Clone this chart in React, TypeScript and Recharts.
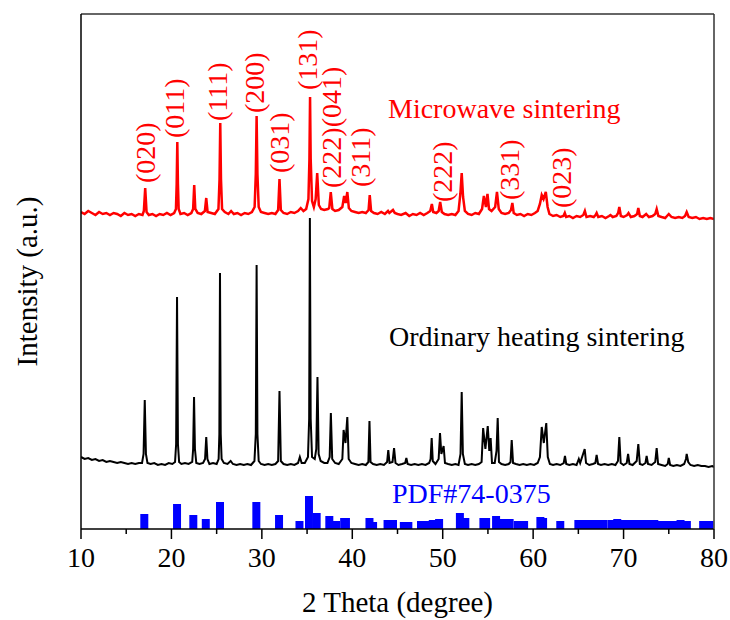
import React from "react";
import { ComposedChart, Line, XAxis, YAxis, Scatter, ReferenceLine } from "recharts";

const FONT = '"Liberation Serif", "Times New Roman", serif';

// the chart fills the whole 730x620 window, so drop the default body margin
if (typeof document !== "undefined") {
  document.body.style.margin = "0";
  document.body.style.overflow = "hidden";
}

// 2θ (deg), intensity (arbitrary, offset stack)
const microwave: [number, number][] = [
  [10.0, 317], [10.4, 315], [10.8, 318], [11.2, 316], [11.6, 314], [12.0, 317], [12.4, 315], [12.8, 316],
  [13.2, 314], [13.6, 316], [14.0, 315], [14.4, 313], [14.8, 316], [15.2, 314], [15.6, 315], [16.0, 313],
  [16.4, 315], [16.8, 314], [16.95, 318], [17.1, 341], [17.25, 317], [17.5, 314], [17.9, 315], [18.3, 313],
  [18.7, 315], [19.1, 314], [19.5, 316], [19.9, 314], [20.3, 316], [20.5, 320], [20.58, 345], [20.65, 387],
  [20.72, 345], [20.8, 320], [21.0, 315], [21.4, 316], [21.8, 314], [22.2, 316], [22.4, 320], [22.52, 344],
  [22.64, 320], [22.9, 316], [23.3, 315], [23.7, 318], [23.85, 331], [24.0, 317], [24.4, 316], [24.8, 315],
  [25.2, 320], [25.32, 350], [25.4, 406], [25.48, 350], [25.6, 320], [25.9, 317], [26.3, 315], [26.6, 318],
  [26.9, 315], [27.3, 316], [27.7, 314], [28.1, 316], [28.5, 315], [28.9, 317], [29.2, 322], [29.33, 355],
  [29.42, 413], [29.51, 355], [29.65, 322], [29.9, 317], [30.3, 316], [30.7, 315], [31.1, 316], [31.5, 315],
  [31.8, 319], [31.95, 350], [32.1, 319], [32.4, 316], [32.8, 315], [33.2, 317], [33.6, 316], [34.0, 318],
  [34.3, 321], [34.6, 318], [34.9, 320], [35.15, 330], [35.26, 370], [35.33, 432], [35.4, 370], [35.55, 328],
  [35.75, 322], [35.95, 330], [36.12, 356], [36.3, 324], [36.55, 320], [36.9, 319], [37.3, 320], [37.45, 321],
  [37.62, 337], [37.8, 320], [38.1, 318], [38.5, 319], [38.9, 322], [39.1, 333], [39.27, 326], [39.45, 337],
  [39.62, 321], [39.9, 318], [40.3, 317], [40.7, 316], [41.1, 317], [41.5, 316], [41.8, 319], [41.93, 334],
  [42.08, 318], [42.4, 316], [42.8, 315], [43.2, 317], [43.6, 315], [43.95, 318], [44.1, 316], [44.5, 319],
  [44.7, 316], [45.0, 315], [45.4, 314], [45.9, 316], [46.3, 313], [46.7, 315], [47.1, 314], [47.5, 316],
  [47.9, 314], [48.3, 316], [48.62, 318], [48.8, 325], [48.95, 317], [49.3, 316], [49.55, 318], [49.72, 327],
  [49.9, 317], [50.2, 315], [50.6, 314], [51.0, 315], [51.4, 314], [51.75, 318], [51.95, 335], [52.1, 356],
  [52.25, 332], [52.45, 318], [52.8, 315], [53.2, 314], [53.6, 316], [54.0, 315], [54.35, 320], [54.55, 333],
  [54.78, 322], [54.95, 335], [55.12, 320], [55.4, 318], [55.8, 322], [56.0, 337], [56.2, 320], [56.5, 316],
  [56.9, 315], [57.3, 316], [57.55, 319], [57.7, 326], [57.85, 316], [58.2, 314], [58.6, 315], [59.0, 313],
  [59.4, 315], [59.8, 314], [60.2, 316], [60.5, 318], [60.75, 325], [60.95, 334], [61.15, 330], [61.4, 337],
  [61.6, 322], [61.8, 315], [62.2, 313], [62.6, 314], [63.0, 312], [63.35, 313], [63.5, 316], [63.65, 312],
  [64.0, 313], [64.4, 311], [64.8, 313], [65.2, 312], [65.55, 314], [65.72, 318], [65.9, 312], [66.3, 313],
  [66.7, 312], [66.9, 314], [67.02, 316], [67.2, 312], [67.6, 313], [68.0, 311], [68.4, 313], [68.55, 314],
  [68.8, 312], [69.2, 313], [69.4, 316], [69.53, 322], [69.7, 313], [70.0, 312], [70.4, 314], [70.55, 316],
  [70.8, 312], [71.2, 313], [71.5, 315], [71.63, 321], [71.8, 313], [72.1, 312], [72.5, 315], [72.8, 312],
  [73.2, 313], [73.5, 315], [73.66, 320], [73.85, 313], [74.2, 312], [74.6, 311], [75.0, 315], [75.3, 312],
  [75.7, 311], [76.1, 312], [76.5, 311], [76.8, 313], [76.98, 317], [77.2, 312], [77.6, 311], [78.0, 312],
  [78.4, 310], [78.8, 311], [79.2, 310], [79.6, 311], [80.0, 310],
];

const ordinary: [number, number][] = [
  [10.0, 72], [10.4, 70], [10.8, 71], [11.2, 69], [11.6, 70], [12.0, 68], [12.4, 69], [12.8, 67],
  [13.2, 68], [13.6, 67], [14.0, 66], [14.4, 67], [14.8, 66], [15.2, 65], [15.6, 66], [16.0, 65],
  [16.4, 66], [16.75, 66], [16.92, 75], [17.05, 129], [17.18, 75], [17.35, 66], [17.7, 65], [18.1, 66],
  [18.5, 64], [18.9, 65], [19.3, 64], [19.7, 66], [20.1, 65], [20.4, 67], [20.52, 85], [20.62, 232],
  [20.72, 85], [20.85, 67], [21.1, 65], [21.5, 66], [21.9, 65], [22.3, 67], [22.4, 80], [22.5, 132],
  [22.6, 80], [22.75, 66], [23.1, 65], [23.5, 66], [23.72, 70], [23.85, 92], [23.98, 70], [24.2, 65],
  [24.6, 66], [25.0, 65], [25.22, 70], [25.3, 95], [25.37, 256], [25.45, 95], [25.55, 70], [25.8, 66],
  [26.2, 65], [26.55, 68], [26.8, 65], [27.2, 64], [27.6, 65], [28.0, 64], [28.4, 65], [28.8, 64],
  [29.18, 68], [29.33, 95], [29.42, 264], [29.51, 95], [29.65, 68], [29.9, 65], [30.3, 64], [30.7, 65],
  [31.1, 64], [31.5, 65], [31.8, 68], [31.95, 138], [32.1, 68], [32.4, 65], [32.8, 64], [33.2, 65],
  [33.6, 64], [34.0, 66], [34.2, 72], [34.4, 66], [34.75, 66], [35.1, 72], [35.23, 110], [35.31, 311],
  [35.4, 110], [35.55, 72], [35.85, 70], [36.02, 80], [36.15, 152], [36.28, 75], [36.5, 68], [36.9, 66],
  [37.25, 66], [37.5, 72], [37.63, 116], [37.78, 70], [38.1, 66], [38.5, 65], [38.9, 70], [39.04, 99],
  [39.25, 86], [39.45, 112], [39.6, 70], [39.9, 66], [40.3, 65], [40.7, 64], [41.1, 65], [41.5, 64],
  [41.78, 67], [41.9, 108], [42.02, 67], [42.3, 65], [42.7, 64], [43.1, 65], [43.5, 64], [43.85, 67],
  [43.98, 79], [44.12, 66], [44.45, 67], [44.62, 81], [44.78, 66], [45.1, 64], [45.5, 65], [45.85, 66],
  [45.98, 71], [46.12, 65], [46.5, 64], [46.9, 65], [47.3, 64], [47.7, 65], [48.1, 64], [48.5, 66],
  [48.66, 70], [48.78, 91], [48.9, 68], [49.2, 65], [49.55, 70], [49.7, 96], [49.85, 75], [50.1, 83],
  [50.25, 66], [50.6, 65], [51.0, 64], [51.4, 65], [51.75, 64], [51.97, 75], [52.1, 137], [52.23, 75],
  [52.45, 65], [52.8, 64], [53.2, 65], [53.6, 64], [54.0, 65], [54.3, 67], [54.47, 101], [54.72, 80],
  [54.98, 103], [55.15, 78], [55.3, 91], [55.45, 66], [55.75, 66], [55.95, 78], [56.08, 111], [56.22, 67],
  [56.5, 65], [56.9, 64], [57.3, 65], [57.5, 67], [57.63, 89], [57.78, 66], [58.1, 65], [58.5, 64],
  [58.9, 65], [59.3, 64], [59.7, 65], [60.1, 64], [60.5, 66], [60.75, 72], [60.95, 102], [61.18, 86],
  [61.45, 106], [61.62, 72], [61.85, 65], [62.2, 64], [62.6, 65], [63.0, 64], [63.38, 66], [63.52, 73],
  [63.66, 65], [64.0, 64], [64.4, 65], [64.8, 64], [65.05, 70], [65.2, 66], [65.7, 80], [65.85, 66],
  [66.2, 64], [66.6, 65], [66.88, 66], [67.02, 74], [67.18, 65], [67.5, 64], [67.9, 65], [68.3, 64],
  [68.7, 65], [69.1, 64], [69.38, 68], [69.53, 92], [69.68, 66], [70.0, 64], [70.35, 66], [70.5, 75],
  [70.65, 65], [71.0, 64], [71.45, 68], [71.63, 85], [71.8, 65], [72.1, 64], [72.42, 66], [72.55, 73],
  [72.7, 65], [73.1, 64], [73.5, 67], [73.66, 81], [73.82, 65], [74.2, 64], [74.6, 63], [74.88, 65],
  [75.0, 71], [75.15, 64], [75.5, 63], [75.9, 64], [76.3, 63], [76.7, 65], [76.9, 70], [76.98, 75],
  [77.15, 67], [77.4, 64], [77.8, 63], [78.2, 64], [78.6, 63], [79.0, 63], [79.4, 62], [79.8, 63],
  [80.0, 62],
];

// PDF#74-0375 reference lines
const pdfPos = [
  17.0, 20.62, 22.42, 23.8, 25.37, 29.39, 31.9, 34.16, 35.21, 36.06, 37.46, 38.2, 39.1, 39.3, 41.9, 42.3,
  43.9, 44.5, 45.7, 46.2, 47.6, 48.3, 48.9, 49.6, 51.9, 52.5, 54.5, 54.8, 55.9, 56.7, 57.4, 58.3, 59.0,
  60.8, 61.1, 63.0, 65.0, 65.7, 66.4, 67.1, 67.8, 68.7, 69.3, 70.0, 70.6, 71.3, 72.0, 72.7, 73.4, 74.1,
  74.8, 75.5, 76.3, 77.0, 78.8, 79.5,
];
const pdfHeight = [
  15, 25, 14, 10, 27, 27, 14, 8, 33, 16, 13, 8, 11, 11, 11, 7,
  9, 9, 7, 7, 8, 8, 9, 10, 16, 11, 11, 11, 13, 10, 10, 8, 8,
  12, 11, 8, 9, 9, 9, 9, 9, 9, 10, 9, 9, 9, 9, 9, 9, 8,
  8, 8, 9, 8, 8, 8,
];

const hklText = ["(020)", "(011)", "(111)", "(200)", "(031)", "(131)", "(222)(041)", "(311)", "(222)", "(331)", "(023)"];
const hklX = [17.08, 20.34, 25.04, 29.2, 31.9, 35.0, 37.65, 40.9, 50.0, 57.4, 63.1];
const hklY = [346, 391, 408, 416, 356, 439, 341, 342, 327, 329, 321];

const noteText = ["Microwave sintering", "Ordinary heating sintering", "PDF#74-0375"];
const noteX = [43.95, 44.06, 44.39];
const noteY = [411, 183, 26];
const noteColor = ["#ff0000", "#000000", "#0000ff"];

const xTicks = [10, 15, 20, 25, 30, 35, 40, 45, 50, 55, 60, 65, 70, 75, 80];

const microwaveData = microwave.map(([x, y]) => ({ x, y }));
const ordinaryData = ordinary.map(([x, y]) => ({ x, y }));
const hklData = hklText.map((t, i) => ({ x: hklX[i], y: hklY[i], t }));
const noteData = noteText.map((t, i) => ({ x: noteX[i], y: noteY[i], t, c: noteColor[i] }));

// major ticks (every 10) get a long mark and a label, minor ones a short mark
const XTick = (p: any) => {
  const v = p.payload.value;
  const major = v % 10 === 0;
  return (
    <g>
      <line x1={p.x} x2={p.x} y1={p.y} y2={p.y + (major ? 10 : 5)} stroke="#000" strokeWidth={1.5} />
      {major && (
        <text x={p.x} y={p.y + 38} textAnchor="middle" fontFamily={FONT} fontSize={28} fill="#000">
          {v}
        </text>
      )}
    </g>
  );
};

const HklLabel = (p: any) => (
  <text
    x={p.cx}
    y={p.cy}
    transform={`rotate(-90 ${p.cx} ${p.cy})`}
    textAnchor="start"
    dominantBaseline="central"
    fontFamily={FONT}
    fontSize={28}
    fill="#ff0000"
  >
    {p.payload.t}
  </text>
);

const NoteLabel = (p: any) => (
  <text x={p.cx} y={p.cy} textAnchor="start" fontFamily={FONT} fontSize={28} fill={p.payload.c}>
    {p.payload.t}
  </text>
);

const YTitle = (p: any) => {
  const vb = p.viewBox;
  const cx = vb.x + vb.width - 54;
  const cy = vb.y + vb.height / 2 + 10;
  return (
    <text
      x={cx}
      y={cy}
      transform={`rotate(-90 ${cx} ${cy})`}
      textAnchor="middle"
      dominantBaseline="central"
      fontFamily={FONT}
      fontSize={29}
      fill="#000"
    >
      Intensity (a.u.)
    </text>
  );
};

export default function App() {
  return (
    <ComposedChart width={730} height={620} margin={{ top: 13, right: 15, bottom: 31, left: 80 }}>
      <XAxis
        dataKey="x"
        type="number"
        domain={[10, 80]}
        allowDataOverflow
        ticks={xTicks}
        interval={0}
        height={60}
        tickSize={0}
        tickMargin={0}
        axisLine={{ stroke: "#000", strokeWidth: 1.5 }}
        tickLine={false}
        tick={<XTick />}
        label={{ value: "2 Theta (degree)", position: "bottom", offset: 2, fontSize: 29, fill: "#000", fontFamily: FONT }}
      />
      <XAxis
        xAxisId="top"
        orientation="top"
        dataKey="x"
        type="number"
        domain={[10, 80]}
        allowDataOverflow
        height={1}
        tick={false}
        tickLine={false}
        axisLine={{ stroke: "#333", strokeWidth: 1.5 }}
      />
      <YAxis
        dataKey="y"
        type="number"
        domain={[0, 515]}
        allowDataOverflow
        width={1}
        tick={false}
        tickLine={false}
        axisLine={{ stroke: "#000", strokeWidth: 1.5 }}
        label={{ content: YTitle }}
      />
      <YAxis
        yAxisId="right"
        orientation="right"
        type="number"
        domain={[0, 515]}
        allowDataOverflow
        width={1}
        tick={false}
        tickLine={false}
        axisLine={{ stroke: "#333", strokeWidth: 1.5 }}
      />

      {pdfPos.map((p, i) => (
        <ReferenceLine
          key={`pdf-${i}`}
          segment={[{ x: p, y: 0 }, { x: p, y: pdfHeight[i] }]}
          stroke="#0000ff"
          strokeWidth={8}
        />
      ))}

      <Line
        data={ordinaryData}
        dataKey="y"
        type="linear"
        stroke="#000000"
        strokeWidth={2}
        dot={false}
        isAnimationActive={false}
      />
      <Line
        data={microwaveData}
        dataKey="y"
        type="linear"
        stroke="#ff0000"
        strokeWidth={2.5}
        dot={false}
        isAnimationActive={false}
      />
      <Scatter data={hklData} dataKey="y" shape={HklLabel} isAnimationActive={false} />
      <Scatter data={noteData} dataKey="y" shape={NoteLabel} isAnimationActive={false} />
    </ComposedChart>
  );
}
